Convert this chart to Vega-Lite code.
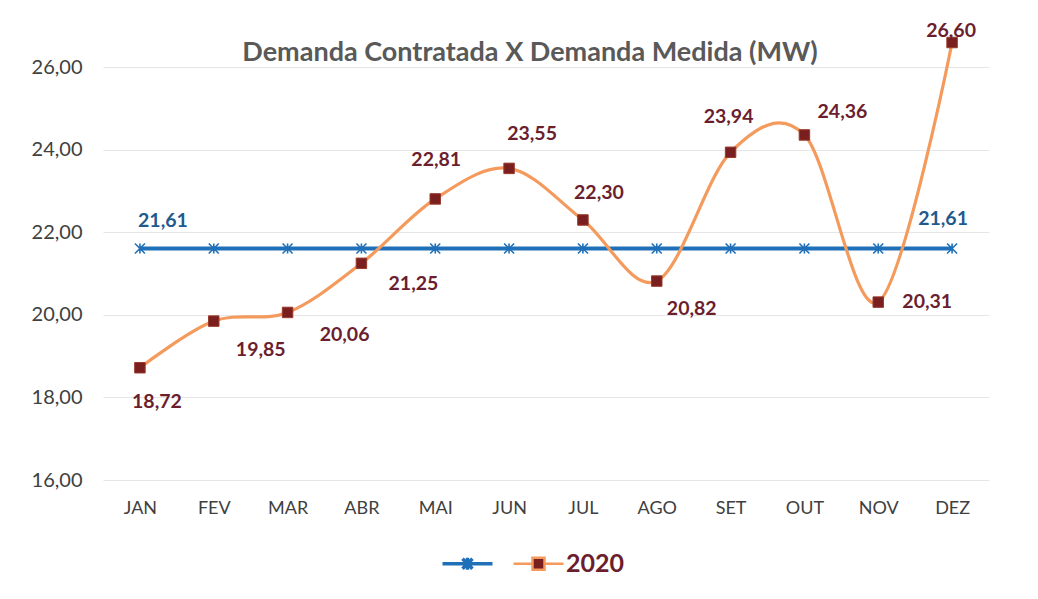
{
  "$schema": "https://vega.github.io/schema/vega-lite/v6.json",
  "width": 886,
  "height": 454,
  "autosize": {"type": "none"},
  "padding": {"left": 103, "top": 26, "right": 49, "bottom": 119},
  "background": "white",
  "title": {
    "text": "Demanda Contratada X Demanda Medida (MW)",
    "font": "Lato",
    "fontSize": 27,
    "fontWeight": "bold",
    "color": "#595959",
    "frame": "group",
    "anchor": "middle",
    "dx": -16,
    "offset": -46
  },
  "config": {
    "view": {"stroke": null},
    "locale": {"number": {"decimal": ",", "thousands": ".", "grouping": [3], "currency": ["R$", ""]}}
  },
  "data": {
    "values": [
      {"m": "JAN", "s": "Contratada", "v": 21.61},
      {"m": "FEV", "s": "Contratada", "v": 21.61},
      {"m": "MAR", "s": "Contratada", "v": 21.61},
      {"m": "ABR", "s": "Contratada", "v": 21.61},
      {"m": "MAI", "s": "Contratada", "v": 21.61},
      {"m": "JUN", "s": "Contratada", "v": 21.61},
      {"m": "JUL", "s": "Contratada", "v": 21.61},
      {"m": "AGO", "s": "Contratada", "v": 21.61},
      {"m": "SET", "s": "Contratada", "v": 21.61},
      {"m": "OUT", "s": "Contratada", "v": 21.61},
      {"m": "NOV", "s": "Contratada", "v": 21.61},
      {"m": "DEZ", "s": "Contratada", "v": 21.61},
      {"m": "JAN", "s": "2020", "v": 18.72},
      {"m": "FEV", "s": "2020", "v": 19.85},
      {"m": "MAR", "s": "2020", "v": 20.06},
      {"m": "ABR", "s": "2020", "v": 21.25},
      {"m": "MAI", "s": "2020", "v": 22.81},
      {"m": "JUN", "s": "2020", "v": 23.55},
      {"m": "JUL", "s": "2020", "v": 22.30},
      {"m": "AGO", "s": "2020", "v": 20.82},
      {"m": "SET", "s": "2020", "v": 23.94},
      {"m": "OUT", "s": "2020", "v": 24.36},
      {"m": "NOV", "s": "2020", "v": 20.31},
      {"m": "DEZ", "s": "2020", "v": 26.60}
    ]
  },
  "encoding": {
    "x": {
      "field": "m", "type": "nominal", "sort": null,
      "scale": {"type": "point", "padding": 0.5, "domain": ["JAN","FEV","MAR","ABR","MAI","JUN","JUL","AGO","SET","OUT","NOV","DEZ"]},
      "axis": {"title": null, "domain": false, "ticks": false, "labelAngle": 0, "labelFont": "Lato", "labelFontSize": 18, "labelColor": "#404040", "labelPadding": 19, "grid": false}
    },
    "y": {
      "field": "v", "type": "quantitative",
      "scale": {"domain": [16, 27], "nice": false, "zero": false},
      "axis": {"title": null, "values": [16, 18, 20, 22, 24, 26], "format": ".2f", "domain": false, "ticks": false, "labelFont": "Lato", "labelFontSize": 20, "labelColor": "#404040", "labelPadding": 21, "grid": true, "gridColor": "#E6E6E6", "gridWidth": 1.2}
    }
  },
  "layer": [
    {
      "transform": [{"filter": "datum.s == 'Contratada'"}],
      "mark": {"type": "line", "strokeWidth": 4},
      "encoding": {
        "color": {
          "field": "s", "type": "nominal",
          "scale": {"domain": ["Contratada", "2020"], "range": ["#1F70B8", "#F39A5C"]},
          "legend": {
            "orient": "none", "legendX": 352, "legendY": 525, "direction": "horizontal", "title": null,
            "labelExpr": "datum.label == '2020' ? '2020' : ''",
            "labelFont": "Lato", "labelFontSize": 25, "labelFontWeight": "bold", "labelColor": "#6B1E2E",
            "symbolSize": 2500, "symbolStrokeWidth": 3, "labelOffset": 15, "columnPadding": 8,
            "encode": {
              "symbols": {
                "update": {
                  "shape": {"signal": "datum.value == '2020' ? 'M-1,0L-0.24,0M0.24,0L1,0M-0.24,-0.24L0.24,-0.24L0.24,0.24L-0.24,0.24Z' : 'M-1,0L1,0M-0.2,-0.2L0.2,0.2M-0.2,0.2L0.2,-0.2M0,-0.24L0,0.24'"},
                  "fill": {"signal": "datum.value == '2020' ? '#7A1F1F' : 'transparent'"},
                  "stroke": {"signal": "datum.value == '2020' ? '#F39A5C' : '#1F70B8'"},
                  "strokeWidth": {"signal": "datum.value == '2020' ? 2.5 : 3.5"}
                }
              }
            }
          }
        }
      }
    },
    {
      "transform": [{"filter": "datum.s == 'Contratada'"}],
      "mark": {"type": "point", "shape": "M-1,-1L1,1M-1,1L1,-1M0,-1L0,1", "size": 100, "filled": false, "stroke": "#1F70B8", "strokeWidth": 1.6, "opacity": 1}
    },
    {
      "transform": [{"filter": "datum.s == '2020'"}],
      "mark": {"type": "line", "strokeWidth": 3.2, "interpolate": "cardinal", "tension": 0},
      "encoding": {"color": {"field": "s", "type": "nominal"}}
    },
    {
      "transform": [{"filter": "datum.s == '2020'"}],
      "mark": {"type": "point", "shape": "square", "size": 110, "filled": true, "color": "#7A1F1F", "stroke": "#9A3A2A", "strokeWidth": 1, "opacity": 1}
    },
    {"transform": [{"filter": "datum.s == 'Contratada' && datum.m == 'JAN'"}], "mark": {"type": "text", "dx": 23, "dy": -27, "font": "Lato", "fontSize": 19.5, "fontWeight": "bold", "color": "#1F5A8E"}, "encoding": {"text": {"field": "v", "type": "quantitative", "format": ".2f"}}},
    {"transform": [{"filter": "datum.s == 'Contratada' && datum.m == 'DEZ'"}], "mark": {"type": "text", "dx": -9, "dy": -29, "font": "Lato", "fontSize": 19.5, "fontWeight": "bold", "color": "#1F5A8E"}, "encoding": {"text": {"field": "v", "type": "quantitative", "format": ".2f"}}},
    {"transform": [{"filter": "datum.s == '2020' && datum.m == 'JAN'"}], "mark": {"type": "text", "dx": 17, "dy": 34, "font": "Lato", "fontSize": 19.5, "fontWeight": "bold", "color": "#6B1E2E"}, "encoding": {"text": {"field": "v", "type": "quantitative", "format": ".2f"}}},
    {"transform": [{"filter": "datum.s == '2020' && datum.m == 'FEV'"}], "mark": {"type": "text", "dx": 47, "dy": 29, "font": "Lato", "fontSize": 19.5, "fontWeight": "bold", "color": "#6B1E2E"}, "encoding": {"text": {"field": "v", "type": "quantitative", "format": ".2f"}}},
    {"transform": [{"filter": "datum.s == '2020' && datum.m == 'MAR'"}], "mark": {"type": "text", "dx": 57, "dy": 23, "font": "Lato", "fontSize": 19.5, "fontWeight": "bold", "color": "#6B1E2E"}, "encoding": {"text": {"field": "v", "type": "quantitative", "format": ".2f"}}},
    {"transform": [{"filter": "datum.s == '2020' && datum.m == 'ABR'"}], "mark": {"type": "text", "dx": 52, "dy": 21, "font": "Lato", "fontSize": 19.5, "fontWeight": "bold", "color": "#6B1E2E"}, "encoding": {"text": {"field": "v", "type": "quantitative", "format": ".2f"}}},
    {"transform": [{"filter": "datum.s == '2020' && datum.m == 'MAI'"}], "mark": {"type": "text", "dx": 1, "dy": -39, "font": "Lato", "fontSize": 19.5, "fontWeight": "bold", "color": "#6B1E2E"}, "encoding": {"text": {"field": "v", "type": "quantitative", "format": ".2f"}}},
    {"transform": [{"filter": "datum.s == '2020' && datum.m == 'JUN'"}], "mark": {"type": "text", "dx": 23, "dy": -34, "font": "Lato", "fontSize": 19.5, "fontWeight": "bold", "color": "#6B1E2E"}, "encoding": {"text": {"field": "v", "type": "quantitative", "format": ".2f"}}},
    {"transform": [{"filter": "datum.s == '2020' && datum.m == 'JUL'"}], "mark": {"type": "text", "dx": 16, "dy": -27, "font": "Lato", "fontSize": 19.5, "fontWeight": "bold", "color": "#6B1E2E"}, "encoding": {"text": {"field": "v", "type": "quantitative", "format": ".2f"}}},
    {"transform": [{"filter": "datum.s == '2020' && datum.m == 'AGO'"}], "mark": {"type": "text", "dx": 35, "dy": 28, "font": "Lato", "fontSize": 19.5, "fontWeight": "bold", "color": "#6B1E2E"}, "encoding": {"text": {"field": "v", "type": "quantitative", "format": ".2f"}}},
    {"transform": [{"filter": "datum.s == '2020' && datum.m == 'SET'"}], "mark": {"type": "text", "dx": -2, "dy": -35, "font": "Lato", "fontSize": 19.5, "fontWeight": "bold", "color": "#6B1E2E"}, "encoding": {"text": {"field": "v", "type": "quantitative", "format": ".2f"}}},
    {"transform": [{"filter": "datum.s == '2020' && datum.m == 'OUT'"}], "mark": {"type": "text", "dx": 38, "dy": -23, "font": "Lato", "fontSize": 19.5, "fontWeight": "bold", "color": "#6B1E2E"}, "encoding": {"text": {"field": "v", "type": "quantitative", "format": ".2f"}}},
    {"transform": [{"filter": "datum.s == '2020' && datum.m == 'NOV'"}], "mark": {"type": "text", "dx": 49, "dy": 0, "font": "Lato", "fontSize": 19.5, "fontWeight": "bold", "color": "#6B1E2E"}, "encoding": {"text": {"field": "v", "type": "quantitative", "format": ".2f"}}},
    {"transform": [{"filter": "datum.s == '2020' && datum.m == 'DEZ'"}], "mark": {"type": "text", "dx": -1, "dy": -12, "font": "Lato", "fontSize": 19.5, "fontWeight": "bold", "color": "#6B1E2E"}, "encoding": {"text": {"field": "v", "type": "quantitative", "format": ".2f"}}}
  ]
}
